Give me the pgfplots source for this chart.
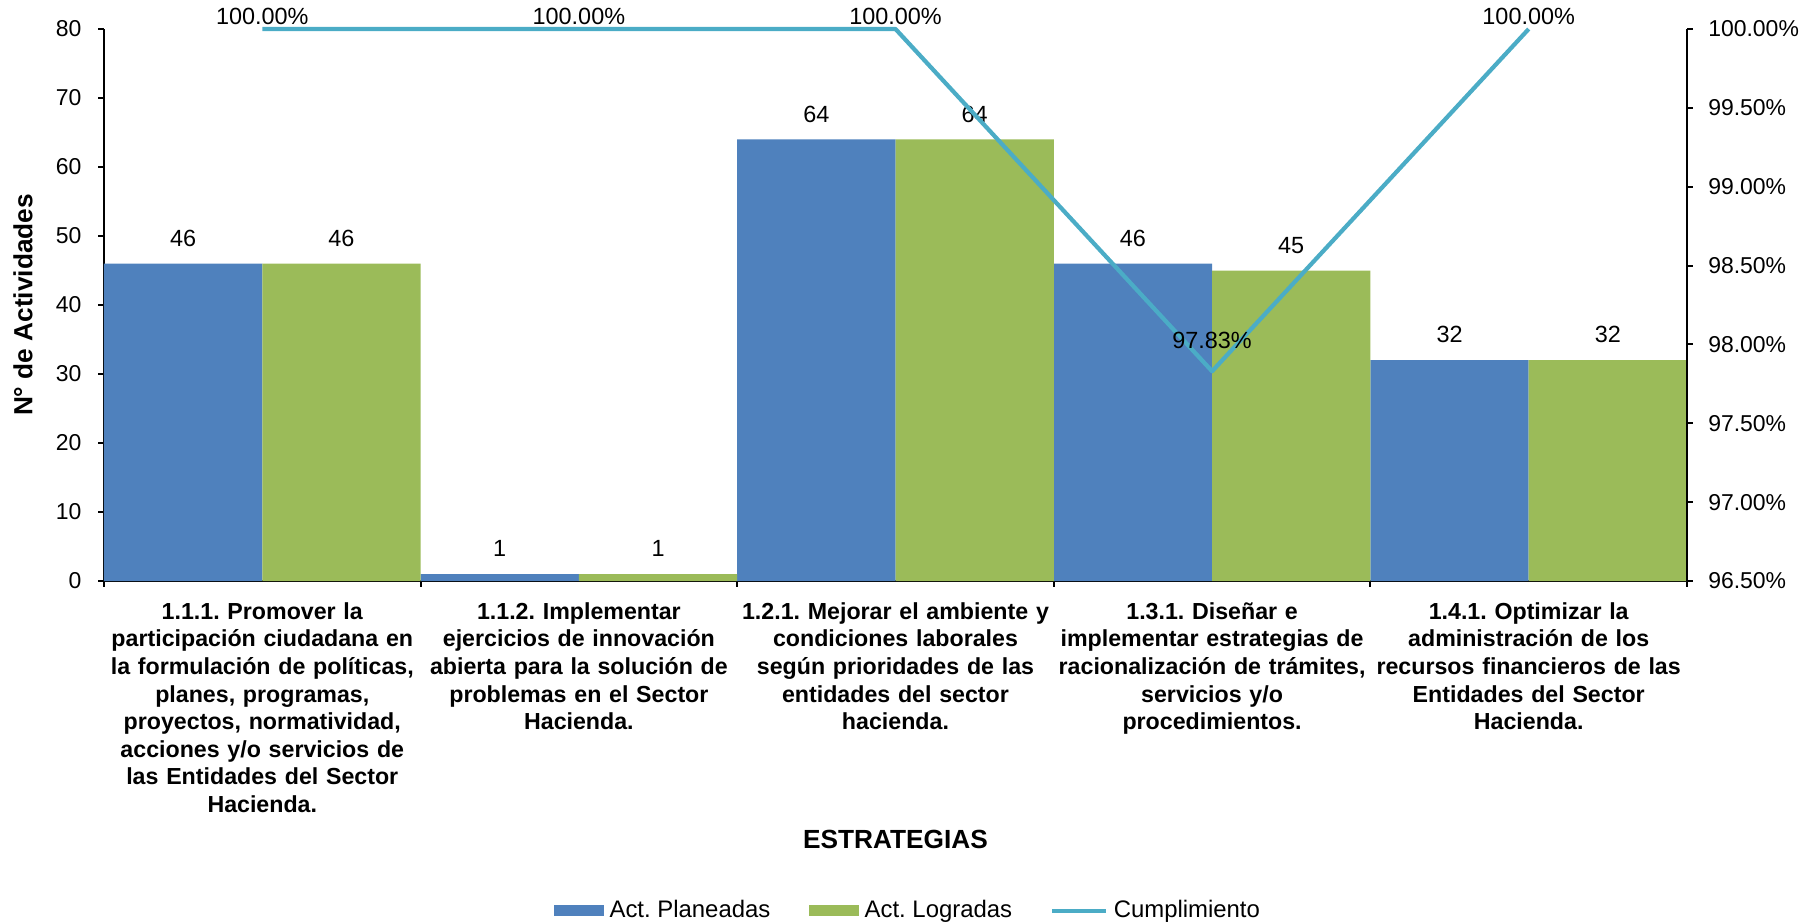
\documentclass[border=0pt]{standalone}
\usepackage{fontspec}
\setmainfont{Liberation Sans}
\usepackage{pgfplots}
\pgfplotsset{compat=1.18}
\usepackage{pgfplotstable}

\definecolor{planblue}{HTML}{4F81BD}
\definecolor{logrgreen}{HTML}{9BBB59}
\definecolor{cumpl}{HTML}{4BACC6}

\pgfplotsset{
  barkey/.style={legend image code/.code={\fill[##1] (0mm,-0.8mm) rectangle (7.5mm,0.8mm);}},
  linekey/.style={legend image code/.code={\draw[##1] (0mm,0mm) -- (8mm,0mm);}},
}

% actividades planeadas / logradas por estrategia
\pgfplotstableread{
x plan logr
0 46 46
1 1  1
2 64 64
3 46 45
4 32 32
}\actividades

% cumplimiento (%) y desplazamiento de la etiqueta (pt)
\pgfplotstableread{
x cump shift
0 100   1.1
1 100   1.1
2 100   1.1
3 97.83 8.8
4 100   1.1
}\cumplimiento

\begin{document}
\frenchspacing
\begin{tikzpicture}
\pgfplotsset{
  every axis/.append style={
    scale only axis, width=237.45mm, height=82.8mm,
    at={(0,0)}, anchor=south west,
    xmin=-0.5, xmax=4.5,
    tick align=outside, major tick length=0.85mm,
    axis line style={line width=0.8pt},
    tick style={line width=0.8pt, black},
    /pgf/number format/assume math mode=true,
    tick label style={font=\fontsize{9.8}{11.7}\selectfont},
  },
}
\begin{axis}[
  ybar, bar width=0.5,
  axis x line*=bottom, axis y line*=left,
  ymin=0, ymax=80, ytick={0,10,20,30,40,50,60,70,80},
  yticklabel style={xshift=-1.3mm},
  xtick={-0.5,0.5,1.5,2.5,3.5,4.5},
  x tick label as interval,
  xticklabels={
    {1.1.1. Promover la\\participación ciudadana en\\la formulación de políticas,\\planes, programas,\\proyectos, normatividad,\\acciones y/o servicios de\\las Entidades del Sector\\Hacienda.},
    {1.1.2. Implementar\\ejercicios de innovación\\abierta para la solución de\\problemas en el Sector\\Hacienda.},
    {1.2.1. Mejorar el ambiente y\\condiciones laborales\\según prioridades de las\\entidades del sector\\hacienda.},
    {1.3.1. Diseñar e\\implementar estrategias de\\racionalización de trámites,\\servicios y/o\\procedimientos.},
    {1.4.1. Optimizar la\\administración de los\\recursos financieros de las\\Entidades del Sector\\Hacienda.}
  },
  xticklabel style={font=\bfseries\fontsize{9.9}{11.8}\selectfont, align=center, text width=52mm, yshift=-1.1mm},
  xlabel={ESTRATEGIAS},
  xlabel style={font=\bfseries\fontsize{11.2}{13}\selectfont, at={(axis description cs:0.5,-0.469)}, anchor=center},
  ylabel={N° de Actividades},
  ylabel style={font=\bfseries\fontsize{11.2}{13}\selectfont, at={(axis description cs:-0.0512,0.5)}, anchor=center},
  nodes near coords,
  every node near coord/.append style={font=\fontsize{10}{12}\selectfont, black, inner sep=0pt, anchor=south, yshift=2.5mm},
  legend columns=3,
  legend cell align=left,
  legend style={draw=none, fill=none, at={(0.509,-0.597)}, anchor=center,
    font=\fontsize{10.2}{12}\selectfont,
    nodes={inner xsep=0.9mm},
    /tikz/every even column/.append style={column sep=4.85mm}},
  clip=false,
]
\addplot[fill=planblue, draw=none, bar shift=-0.25, barkey]
  table[x=x, y=plan] {\actividades};
\addlegendentry{Act. Planeadas}
\addplot[fill=logrgreen, draw=none, bar shift=0.25, barkey]
  table[x=x, y=logr] {\actividades};
\addlegendentry{Act. Logradas}
\addlegendimage{linekey, color=cumpl, line width=1.7pt}
\addlegendentry{Cumplimiento}
\end{axis}

\begin{axis}[
  axis x line=none, axis y line*=right,
  ymin=96.5, ymax=100,
  ytick={96.5,97,97.5,98,98.5,99,99.5,100},
  yticklabel={\pgfmathprintnumber[fixed,fixed zerofill,precision=2]{\tick}\%},
  yticklabel style={xshift=1.1mm},
  clip=false,
]
\addplot[color=cumpl, line width=1.8pt, line join=round, mark=none,
  point meta=y,
  visualization depends on={\thisrow{shift} \as \lshift},
  nodes near coords={\pgfmathprintnumber[fixed,fixed zerofill,precision=2]{\pgfplotspointmeta}\%},
  every node near coord/.append style={font=\fontsize{10}{12}\selectfont, black, inner sep=0pt, anchor=south, yshift=\lshift}]
  table[x=x, y=cump] {\cumplimiento};
\end{axis}
\pgfresetboundingbox
\path (-15.6mm,-51.3mm) rectangle (257.1mm,87.15mm);
\end{tikzpicture}
\end{document}
